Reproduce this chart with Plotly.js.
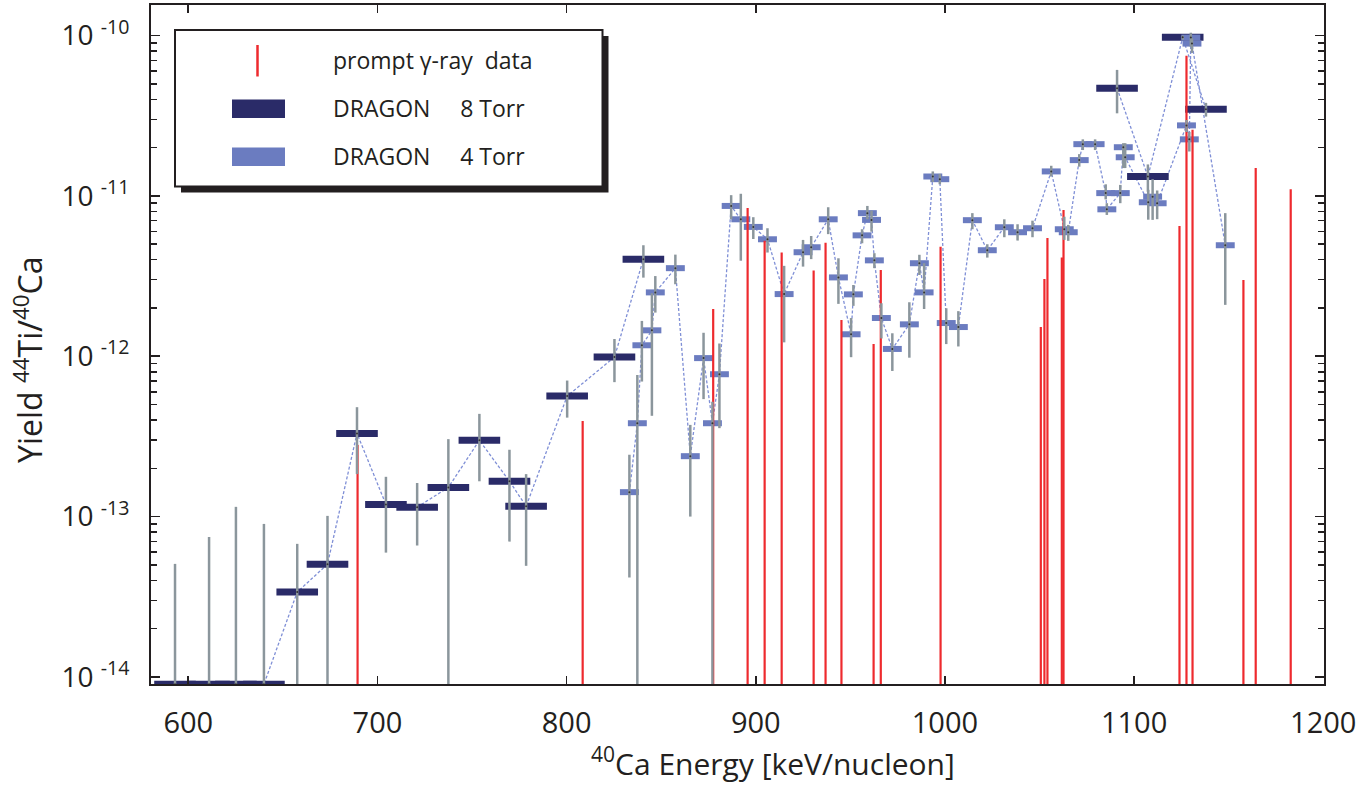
<!DOCTYPE html>
<html>
<head>
<meta charset="utf-8">
<script src="https://cdn.plot.ly/plotly-3.0.1.min.js"></script>
<style>html,body{margin:0;padding:0;background:#fff}#chart{width:1364px;height:785px}</style>
</head>
<body>
<div id="chart"></div>
<script>
// ---------- DATA ----------
// DRAGON 8 Torr
const e8  = [593.0, 611.0, 625.2, 640.0, 657.6, 673.6, 689.2, 704.5, 721.0, 737.5, 753.9, 769.8, 778.6, 800.3, 825.3, 840.6, 1091.0, 1107.3, 1125.7, 1138.0];
const y8  = [9e-15, 9e-15, 9e-15, 9e-15, 3.38e-14, 5.05e-14, 3.3e-13, 1.19e-13, 1.145e-13, 1.52e-13, 2.99e-13, 1.66e-13, 1.16e-13, 5.64e-13, 9.87e-13, 4.03e-12, 4.69e-11, 1.32e-11, 9.74e-11, 3.47e-11];
const hi8 = [5.07e-14, 7.46e-14, 1.15e-13, 9.0e-14, 6.76e-14, 1.01e-13, 4.81e-13, 1.77e-13, 1.62e-13, 3.04e-13, 4.37e-13, 2.61e-13, 1.84e-13, 7.05e-13, 1.28e-12, 4.92e-12, 6.1e-11, 1.57e-11, 1.0e-10, 3.8e-11];
const lo8 = [9e-15, 9e-15, 9e-15, 9e-15, 9e-15, 9e-15, 1.84e-13, 5.96e-14, 6.6e-14, 9e-15, 1.66e-13, 6.98e-14, 4.93e-14, 4.14e-13, 6.89e-13, 3.09e-12, 3.27e-11, 1.06e-11, 9.4e-11, 3.12e-11];

// DRAGON 4 Torr
const e4  = [833.2, 837.4, 839.8, 845.1, 846.9, 857.5, 865.4, 872.4, 877.1, 880.8, 887.0, 892.1, 898.7, 906.2, 915.0, 925.0, 929.3, 938.3, 943.7, 950.4, 951.6, 956.2, 959.0, 961.2, 962.7, 966.4, 972.2, 981.2, 986.5, 989.0, 993.6, 997.3, 1000.7, 1007.1, 1014.5, 1022.4, 1031.4, 1038.4, 1046.3, 1056.2, 1063.1, 1065.2, 1071.0, 1072.9, 1079.4, 1085.0, 1085.6, 1092.7, 1094.3, 1095.3, 1107.5, 1109.8, 1112.2, 1127.7, 1129.2, 1130.0, 1130.6, 1148.2];
const y4  = [1.42e-13, 3.82e-13, 1.17e-12, 1.45e-12, 2.5e-12, 3.54e-12, 2.38e-13, 9.73e-13, 3.82e-13, 7.72e-13, 8.65e-12, 7.14e-12, 6.4e-12, 5.36e-12, 2.44e-12, 4.45e-12, 4.78e-12, 7.14e-12, 3.1e-12, 1.37e-12, 2.43e-12, 5.67e-12, 7.8e-12, 7.08e-12, 3.96e-12, 1.73e-12, 1.11e-12, 1.58e-12, 3.8e-12, 2.5e-12, 1.32e-11, 1.27e-11, 1.61e-12, 1.52e-12, 7.05e-12, 4.58e-12, 6.37e-12, 5.93e-12, 6.28e-12, 1.42e-11, 6.19e-12, 5.93e-12, 1.67e-11, 2.1e-11, 2.1e-11, 1.04e-11, 8.24e-12, 1.04e-11, 2.01e-11, 1.74e-11, 9.12e-12, 9.88e-12, 8.99e-12, 2.75e-11, 2.25e-11, 9.7e-11, 8.9e-11, 4.92e-12];
const hi4 = [2.43e-13, 7.64e-13, 1.66e-12, 2.47e-12, 3.16e-12, 4.3e-12, 3.73e-13, 1.4e-12, 5.2e-13, 1.2e-12, 1.01e-11, 1.03e-11, 7.36e-12, 6.28e-12, 3.66e-12, 5.31e-12, 5.62e-12, 8.49e-12, 4.08e-12, 1.73e-12, 2.78e-12, 6.19e-12, 8.65e-12, 8.09e-12, 4.39e-12, 2.14e-12, 1.39e-12, 2.17e-12, 4.29e-12, 3.8e-12, 1.42e-11, 1.37e-11, 1.99e-12, 1.91e-12, 7.8e-12, 4.99e-12, 7.14e-12, 6.65e-12, 7.0e-12, 1.54e-11, 7.41e-12, 6.59e-12, 1.82e-11, 2.25e-11, 2.25e-11, 1.18e-11, 9.0e-12, 1.17e-11, 2.13e-11, 2.13e-11, 1.09e-11, 1.27e-11, 1.08e-11, 2.97e-11, 2.5e-11, 1.04e-10, 9.6e-11, 7.8e-12];
const lo4 = [4.17e-14, 9e-15, 6.95e-13, 4.25e-13, 1.87e-12, 2.81e-12, 1.0e-13, 5.4e-13, 9e-15, 3.56e-13, 7.14e-12, 3.94e-12, 5.38e-12, 4.43e-12, 1.22e-12, 3.62e-12, 4.03e-12, 5.77e-12, 2.12e-12, 9.86e-13, 2.06e-12, 5.06e-12, 7.14e-12, 5.98e-12, 3.54e-12, 1.29e-12, 8.09e-13, 9.79e-13, 3.21e-12, 1.97e-12, 1.22e-11, 1.18e-11, 1.19e-12, 1.15e-12, 6.19e-12, 4.12e-12, 5.52e-12, 5.26e-12, 5.52e-12, 1.32e-11, 5.31e-12, 5.24e-12, 1.52e-11, 1.93e-11, 1.93e-11, 9.5e-12, 7.6e-12, 9.0e-12, 1.49e-11, 1.49e-11, 7.1e-12, 7.08e-12, 7.15e-12, 2.5e-11, 1.89e-11, 8.5e-11, 7.78e-11, 2.09e-12];

// prompt gamma-ray data
const eG = [689.5, 808.5, 877.5, 895.7, 904.7, 913.7, 930.6, 936.9, 945.3, 962.3, 966.1, 997.7, 1050.7, 1052.6, 1054.2, 1061.8, 1062.7, 1124.0, 1127.7, 1130.9, 1157.8, 1164.3, 1182.8];
const yG = [2.8e-13, 3.95e-13, 1.97e-12, 8.41e-12, 5.24e-12, 4.43e-12, 3.42e-12, 5.1e-12, 1.68e-12, 1.19e-12, 3.45e-12, 4.82e-12, 1.52e-12, 3.03e-12, 5.45e-12, 4.12e-12, 8.16e-12, 6.49e-12, 7.48e-11, 2.58e-11, 2.99e-12, 1.49e-11, 1.1e-11];

const yTickVals = [1e-14, 1e-13, 1e-12, 1e-11, 1e-10];
const yTickText = ['10 <sup>-14</sup>', '10 <sup>-13</sup>', '10 <sup>-12</sup>', '10 <sup>-11</sup>', '10 <sup>-10</sup>'];
const xTitle = '<sup>40</sup>Ca Energy [keV/nucleon]';
const yTitle = 'Yield <sup>44</sup>Ti/<sup>40</sup>Ca';

// ---------- STYLE ----------
const FLOOR = 9e-15;
const HALF8 = 11, HALF4 = 5;
const C_DARK = '#2a2b68', C_LIGHT = '#6b7cc0', C_GRAY = '#8b969c', C_RED = '#ee2a2e', C_DASH = '#7f8fd6';
const TXT = '#231f20';
const FONT = 'Open Sans, Noto Sans, sans-serif';

function seriesLine(xs, ys, gap) {
  const X = [], Y = [];
  for (let i = 0; i < xs.length; i++) {
    if (i > 0 && xs[i] - xs[i-1] > gap) { X.push(null); Y.push(null); }
    X.push(xs[i]); Y.push(ys[i]);
  }
  return {X, Y};
}
const l8 = seriesLine(e8, y8, 100);
const stemX = [], stemY = [];
eG.forEach((e, i) => { stemX.push(e, e, null); stemY.push(FLOOR, yG[i], null); });

const allE = e8.concat(e4), allY = y8.concat(y4), allHi = hi8.concat(hi4), allLo = lo8.concat(lo4);

const traces = [
  {x: l8.X, y: l8.Y, mode: 'lines', line: {color: C_DASH, width: 1.3, dash: '3px,2px'}, hoverinfo: 'skip', showlegend: false},
  {x: e4, y: y4, mode: 'lines', line: {color: C_DASH, width: 1.3, dash: '3px,2px'}, hoverinfo: 'skip', showlegend: false},
  {x: e8, y: y8, mode: 'markers', marker: {size: 1, opacity: 0}, showlegend: false,
   error_x: {type: 'constant', value: HALF8, thickness: 7, width: 0, color: C_DARK}},
  {x: e4, y: y4, mode: 'markers', marker: {size: 1, opacity: 0}, showlegend: false,
   error_x: {type: 'constant', value: HALF4, thickness: 6, width: 0, color: C_LIGHT}},
  {x: stemX, y: stemY, mode: 'lines', line: {color: C_RED, width: 2.2}, showlegend: false},
  {x: allE, y: allY, mode: 'markers', marker: {size: 2, color: '#333'}, showlegend: false,
   error_y: {type: 'data', symmetric: false,
             array: allHi.map((h, i) => h - allY[i]),
             arrayminus: allLo.map((l, i) => allY[i] - l),
             thickness: 2.5, width: 0, color: C_GRAY}}
];

// minor log ticks
const minorVals = [];
for (let d = -15; d <= -10; d++) for (let k = 2; k <= 9; k++) minorVals.push(k * Math.pow(10, d));

// pixel -> paper helpers for layout decoration
const L = 151, R = 1324, T = 5, B = 684;
const xp = p => (p - L) / (R - L), yp = p => (B - p) / (B - T);
const shapes = [
  {type: 'rect', xref: 'paper', yref: 'paper', x0: xp(181), x1: xp(608.5), y0: yp(192.5), y1: yp(36), fillcolor: '#231f20', line: {width: 0}},
  {type: 'rect', xref: 'paper', yref: 'paper', x0: xp(175), x1: xp(602.5), y0: yp(186.5), y1: yp(30), fillcolor: '#fff', line: {color: '#231f20', width: 2}},
  {type: 'line', xref: 'paper', yref: 'paper', x0: xp(257.5), x1: xp(257.5), y0: yp(76.5), y1: yp(45), line: {color: C_RED, width: 2.5}},
  {type: 'rect', xref: 'paper', yref: 'paper', x0: xp(232), x1: xp(285), y0: yp(118), y1: yp(99.5), fillcolor: C_DARK, line: {width: 0}},
  {type: 'rect', xref: 'paper', yref: 'paper', x0: xp(232), x1: xp(285), y0: yp(166), y1: yp(147.5), fillcolor: C_LIGHT, line: {width: 0}}
];
const legText = ['prompt \u03b3-ray\u00a0\u00a0data', 'DRAGON\u00a0\u00a0\u00a0\u00a0 8 Torr', 'DRAGON\u00a0\u00a0\u00a0\u00a0 4 Torr'];
const legY = [60, 108, 156];
const annotations = legText.map((t, i) => ({
  xref: 'paper', yref: 'paper', x: xp(331), y: yp(legY[i]), xanchor: 'left', yanchor: 'middle',
  text: t, showarrow: false, font: {family: FONT, size: 23, color: TXT}
}));
annotations.push({
  xref: 'paper', yref: 'paper', x: xp(773), y: yp(762), xanchor: 'center', yanchor: 'middle',
  text: xTitle, showarrow: false, font: {family: FONT, size: 30, color: TXT}
});
annotations.push({
  xref: 'paper', yref: 'paper', x: xp(28), y: yp(360), xanchor: 'center', yanchor: 'middle', textangle: -90,
  text: yTitle, showarrow: false, font: {family: FONT, size: 32, color: TXT}
});

const layout = {
  width: 1364, height: 785,
  margin: {l: 151, r: 40, t: 5, b: 101},
  paper_bgcolor: '#fff', plot_bgcolor: '#fff',
  font: {family: FONT, color: TXT},
  showlegend: false,
  xaxis: {
    range: [580.3, 1200.4], dtick: 100, tick0: 0, showgrid: false, zeroline: false,
    showline: true, linecolor: TXT, linewidth: 2, mirror: 'ticks',
    ticks: 'inside', ticklen: 8, tickwidth: 1.8, tickcolor: TXT,
    tickfont: {family: FONT, size: 29, color: TXT}, ticklabelstandoff: 12
  },
  yaxis: {
    type: 'log', range: [-14.044, -9.81], showgrid: false, zeroline: false,
    showline: true, linecolor: TXT, linewidth: 2, mirror: 'ticks',
    tickmode: 'array', tickvals: yTickVals, ticktext: yTickText,
    ticks: 'inside', ticklen: 9, tickwidth: 1.8, tickcolor: TXT,
    tickfont: {family: FONT, size: 28, color: TXT}, ticklabelstandoff: 14,
    minor: {tickmode: 'array', tickvals: minorVals, ticks: 'inside', ticklen: 6, tickwidth: 1.5, tickcolor: TXT}
  },
  shapes: shapes,
  annotations: annotations
};

Plotly.newPlot('chart', traces, layout, {displayModeBar: false, staticPlot: true});
</script>
</body>
</html>
